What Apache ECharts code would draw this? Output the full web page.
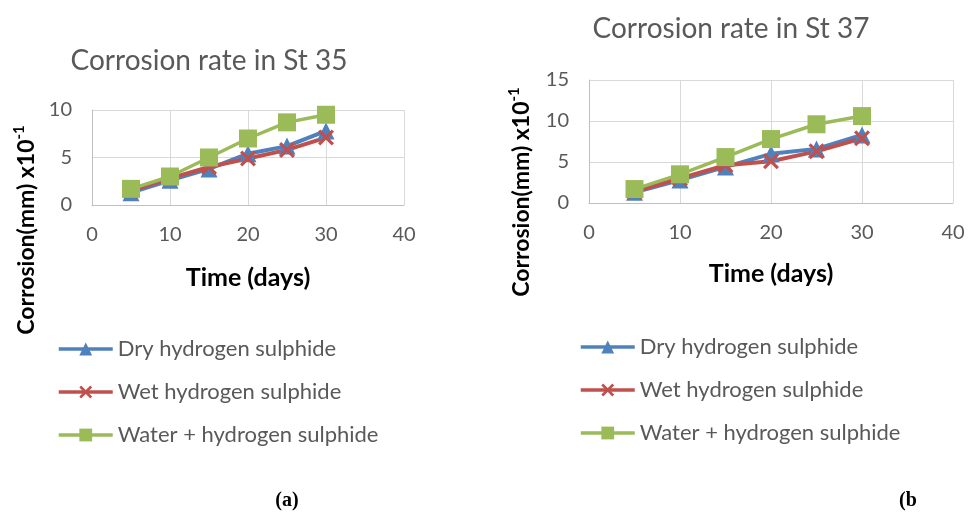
<!DOCTYPE html>
<html>
<head>
<meta charset="utf-8">
<script src="https://cdn.jsdelivr.net/npm/echarts@6/dist/echarts.min.js"></script>
<style>
  html, body { margin: 0; padding: 0; background: #fff; }
  #chart { width: 968px; height: 512px; }
</style>
</head>
<body>
<div id="chart"></div>
<script>
// days of exposure
const days = [5, 10, 15, 20, 25, 30];
const seriesNames = ['Dry hydrogen sulphide', 'Wet hydrogen sulphide', 'Water + hydrogen sulphide'];

// St 35
const st35Dry = [1.3, 2.6, 3.8, 5.4, 6.2, 7.8];
const st35Wet = [1.5, 2.8, 4.0, 4.9, 5.8, 7.1];
const st35Water = [1.7, 3.0, 5.0, 7.0, 8.7, 9.5];

// St 37
const st37Dry = [1.3, 2.8, 4.4, 6.0, 6.6, 8.3];
const st37Wet = [1.4, 3.0, 4.6, 5.1, 6.3, 7.9];
const st37Water = [1.7, 3.5, 5.6, 7.8, 9.6, 10.6];

const xTicks = { min: 0, max: 40, interval: 10 };
const yTicks35 = { min: 0, max: 10, interval: 5 };
const yTicks37 = { min: 0, max: 15, interval: 5 };

const FONT = 'Lato, "Open Sans", sans-serif';
const GREY = '#595959';
const colors = ['#4F81BD', '#C0504D', '#9BBB59'];
const crossPath = 'path://M0,1.4L1.4,0L10,8.6L8.6,10Z M8.6,0L10,1.4L1.4,10L0,8.6Z';
const symbols = ['triangle', crossPath, 'rect'];
const symbolSizes = [17, 16, 18];
const lineWidths = [4, 4, 3.5];

function pairs(vals) {
  return days.map((d, i) => [d, vals[i]]);
}

function makeSeries(vals, idx, axis) {
  return {
    name: seriesNames[idx],
    type: 'line',
    xAxisIndex: axis,
    yAxisIndex: axis,
    data: pairs(vals),
    symbol: symbols[idx],
    symbolSize: symbolSizes[idx],
    itemStyle: { color: colors[idx] },
    lineStyle: { color: colors[idx], width: lineWidths[idx] },
    animation: false
  };
}

function xAxisCfg(grid, gap) {
  return {
    gridIndex: grid,
    type: 'value',
    min: xTicks.min, max: xTicks.max, interval: xTicks.interval,
    name: 'Time (days)',
    nameLocation: 'middle',
    nameGap: gap,
    nameTextStyle: { fontFamily: FONT, fontSize: 25, fontWeight: 'bold', color: '#000' },
    axisLine: { lineStyle: { color: '#BFBFBF' } },
    axisTick: { show: false },
    axisLabel: { fontFamily: FONT, fontSize: 20, color: GREY, margin: 20 },
    splitLine: { lineStyle: { color: '#D9D9D9' } }
  };
}

function yAxisCfg(grid, ticks) {
  return {
    gridIndex: grid,
    type: 'value',
    min: ticks.min, max: ticks.max, interval: ticks.interval,
    axisLine: { show: true, lineStyle: { color: '#BFBFBF' } },
    axisTick: { show: false },
    axisLabel: { fontFamily: FONT, fontSize: 20, color: GREY, margin: 20 },
    splitLine: { lineStyle: { color: '#D9D9D9' } }
  };
}

function yTitle(x, y) {
  return {
    type: 'text',
    x: x, y: y,
    rotation: Math.PI / 2,
    style: {
      text: '{m|Corrosion(mm) x10}{s|-1}',
      align: 'center',
      verticalAlign: 'middle',
      rich: {
        m: { fontFamily: FONT, fontSize: 23, fontWeight: 'bold', fill: '#000', verticalAlign: 'bottom', lineHeight: 26 },
        s: { fontFamily: FONT, fontSize: 15, fontWeight: 'bold', fill: '#000', verticalAlign: 'top', lineHeight: 26 }
      }
    }
  };
}

function legendCfg(left, top) {
  return {
    orient: 'vertical',
    left: left, top: top,
    data: seriesNames,
    itemWidth: 54,
    itemHeight: 16,
    itemGap: 21,
    lineStyle: { width: 3.5 },
    textStyle: { fontFamily: FONT, fontSize: 22, color: GREY }
  };
}

const chart = echarts.init(document.getElementById('chart'));
chart.setOption({
  animation: false,
  title: [
    { text: 'Corrosion rate in St 35', left: 204, top: 42, textAlign: 'center',
      textStyle: { fontFamily: FONT, fontSize: 28, fontWeight: 'normal', color: GREY } },
    { text: 'Corrosion rate in St 37', left: 726, top: 10, textAlign: 'center',
      textStyle: { fontFamily: FONT, fontSize: 28, fontWeight: 'normal', color: GREY } }
  ],
  legend: [legendCfg(52, 333), legendCfg(574, 331)],
  grid: [
    { left: 92, top: 110, width: 312, height: 95 },
    { left: 589, top: 80, width: 364, height: 123 }
  ],
  xAxis: [xAxisCfg(0, 60), xAxisCfg(1, 58)],
  yAxis: [yAxisCfg(0, yTicks35), yAxisCfg(1, yTicks37)],
  series: [
    makeSeries(st35Dry, 0, 0),
    makeSeries(st35Wet, 1, 0),
    makeSeries(st35Water, 2, 0),
    makeSeries(st37Dry, 0, 1),
    makeSeries(st37Wet, 1, 1),
    makeSeries(st37Water, 2, 1)
  ],
  graphic: [
    yTitle(25, 230),
    yTitle(520, 192),
    { type: 'text', x: 287, y: 501,
      style: { text: '(a)', align: 'center', verticalAlign: 'middle',
        font: 'bold 20px "Liberation Serif", "DejaVu Serif", serif', fill: '#000' } },
    { type: 'text', x: 908, y: 501,
      style: { text: '(b', align: 'center', verticalAlign: 'middle',
        font: 'bold 20px "Liberation Serif", "DejaVu Serif", serif', fill: '#000' } }
  ]
});
</script>
</body>
</html>
